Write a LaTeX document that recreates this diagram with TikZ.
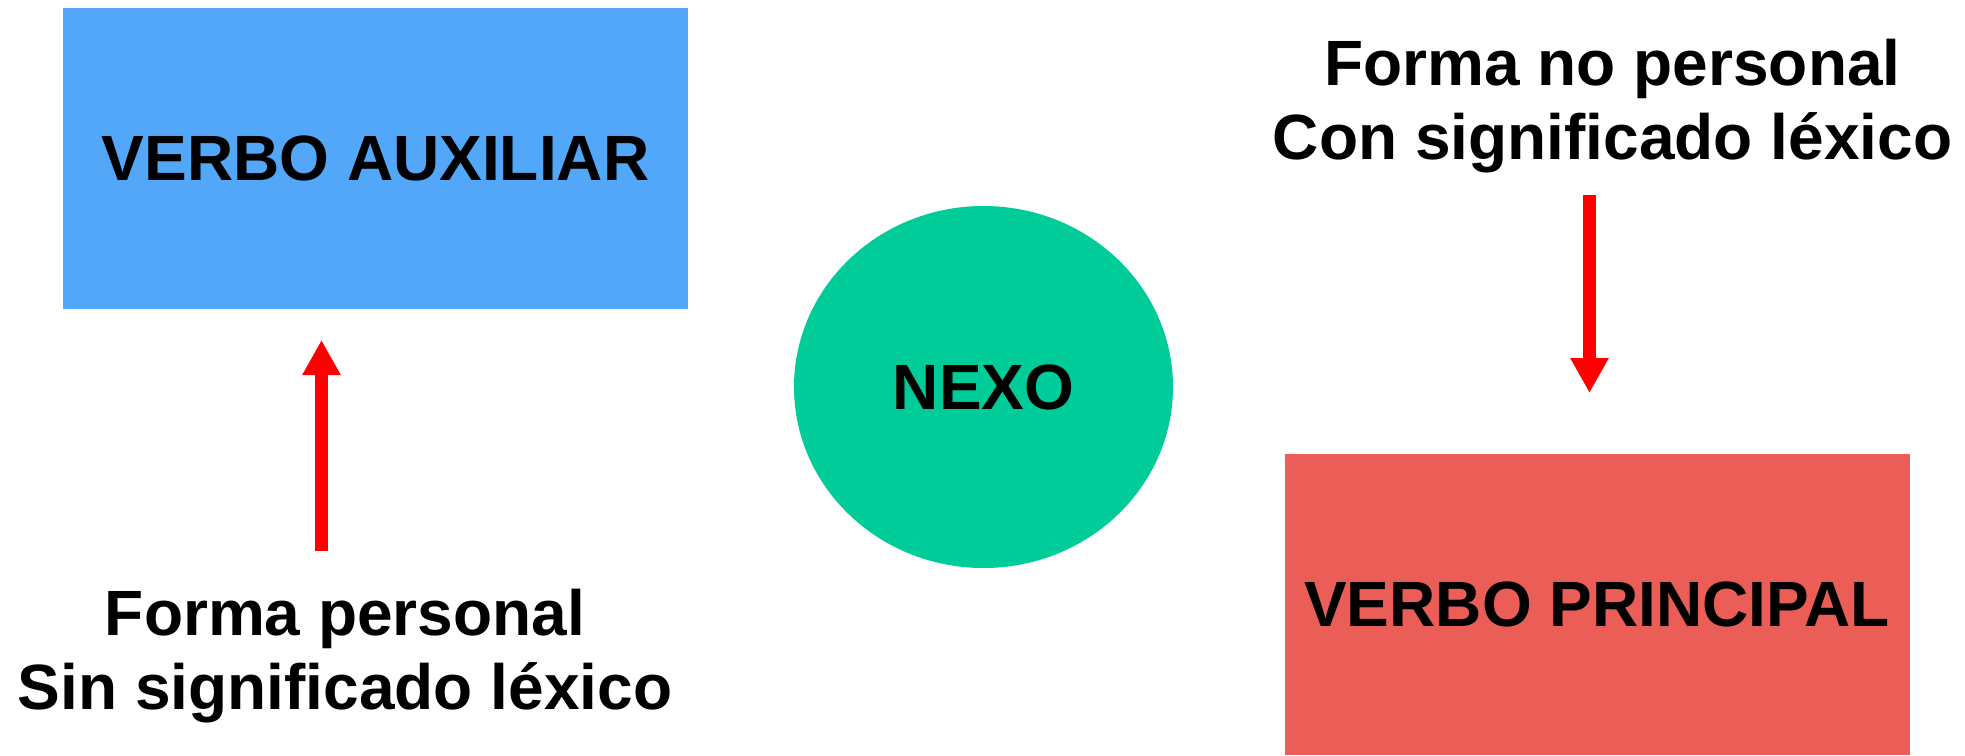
\documentclass[tikz,border=0pt]{standalone}
\usepackage{fontspec}
\setmainfont{Liberation Sans}
\usepackage{tikz}
\usetikzlibrary{shapes.geometric,arrows.meta}
\definecolor{azul}{HTML}{52A7F9}
\definecolor{verde}{HTML}{00CC9A}
\definecolor{rojo}{HTML}{EB5E57}
\tikzset{
	every node/.style={font=\fontsize{32}{37}\selectfont\bfseries, inner sep=0pt}, % bold text for every node
	caja/.style={rectangle, minimum width=312.5pt, minimum height=150.5pt}, % the two verb boxes
	rotulo/.style={align=center, anchor=base}, % two-line labels, placed on the last baseline
	flecha/.style={-{Triangle[width=18pt,length=17.5pt]}, line width=6.5pt, red}, % thick red arrows
}

\begin{document}
\begin{tikzpicture}[x=0.5pt,y=-0.5pt]
		\useasboundingbox (0,0) rectangle (1965,755);
		\node[caja,fill=azul] (aux) at (375.5,158.5) {VERBO AUXILIAR};
		\node[ellipse,fill=verde,minimum width=189.5pt,minimum height=181pt] (nexo) at (983.5,387) {NEXO};
		\node[caja,fill=rojo] (princ) at (1597,604) {VERBO PRINCIPAL};
		
		\node[rotulo] (lblaux) at (345,709) {Forma personal\\Sin significado léxico};
		\node[rotulo] (lblprinc) at (1612.5,159) {Forma no personal\\Con significado léxico};
		
		\coordinate (auxfrom) at (321.5,551);
		\coordinate (auxto) at (321.5,340);
		\coordinate (princfrom) at (1589.5,195);
		\coordinate (princto) at (1589.5,393);
		\draw[flecha] (auxfrom) -- (auxto);
		\draw[flecha] (princfrom) -- (princto);
	\end{tikzpicture}
\end{document}
